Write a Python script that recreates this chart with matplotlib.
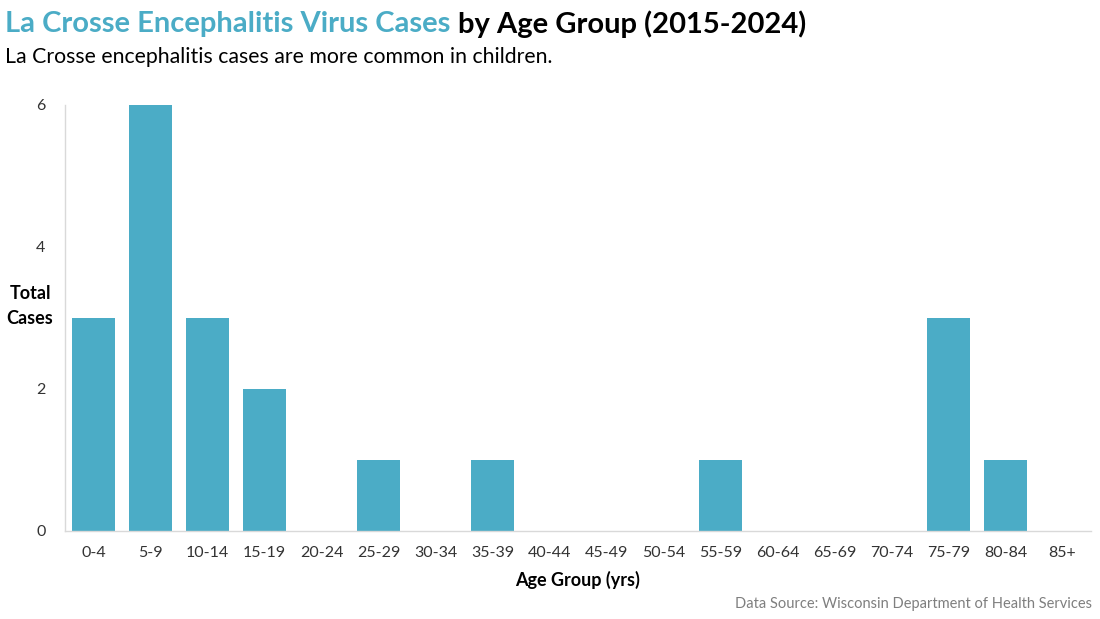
import matplotlib
matplotlib.use("Agg")
import matplotlib.pyplot as plt

plt.rcParams["font.family"] = ["Lato", "DejaVu Sans"]

# Data
age_groups = ["0-4", "5-9", "10-14", "15-19", "20-24", "25-29", "30-34", "35-39", "40-44",
              "45-49", "50-54", "55-59", "60-64", "65-69", "70-74", "75-79", "80-84", "85+"]
cases = [3, 6, 3, 2, 0, 1, 0, 1, 0, 0, 0, 1, 0, 0, 0, 3, 1, 0]

teal = "#4BACC6"

fig = plt.figure(figsize=(11, 6.19), dpi=100)
ax = fig.add_axes([65 / 1100, 1 - 531 / 619, 1026 / 1100, 426 / 619])

ax.bar(range(len(age_groups)), cases, width=0.77, color=teal)
ax.set_xlim(-0.5, len(age_groups) - 0.5)
ax.set_ylim(0, 6)
ax.set_yticks([0, 2, 4, 6])
ax.set_xticks(range(len(age_groups)))
ax.set_xticklabels(age_groups)
ax.tick_params(axis="both", length=0, labelsize=11.5, colors="#333333")
ax.tick_params(axis="x", pad=11)
ax.tick_params(axis="y", pad=14)

for side in ["top", "right"]:
    ax.spines[side].set_visible(False)
for side in ["left", "bottom"]:
    ax.spines[side].set_color("#d9d9d9")
    ax.spines[side].set_linewidth(1)

ax.set_xlabel("Age Group (yrs)", fontsize=13, fontweight="bold", labelpad=8)
fig.text(30 / 1100, 1 - 306 / 619, "Total\nCases", fontsize=13, fontweight="bold",
         ha="center", va="center", linespacing=1.55)

# Two-colour title
t1 = fig.text(5 / 1100, 1 - 24 / 619, "La Crosse Encephalitis Virus Cases", fontsize=21,
              fontweight="bold", color=teal, va="center")
fig.canvas.draw()
bb = t1.get_window_extent()
fig.text(bb.x1 / 1100 + 8 / 1100, 1 - 24 / 619, "by Age Group (2015-2024)", fontsize=21,
         fontweight="bold", color="black", va="center")
fig.text(5 / 1100, 1 - 57 / 619, "La Crosse encephalitis cases are more common in children.",
         fontsize=15.3, color="black", va="center")

fig.text(1092 / 1100, 1 - 604 / 619, "Data Source: Wisconsin Department of Health Services",
         fontsize=10.5, color="#7f7f7f", ha="right", va="center")

fig.savefig("out.png", dpi=100)
